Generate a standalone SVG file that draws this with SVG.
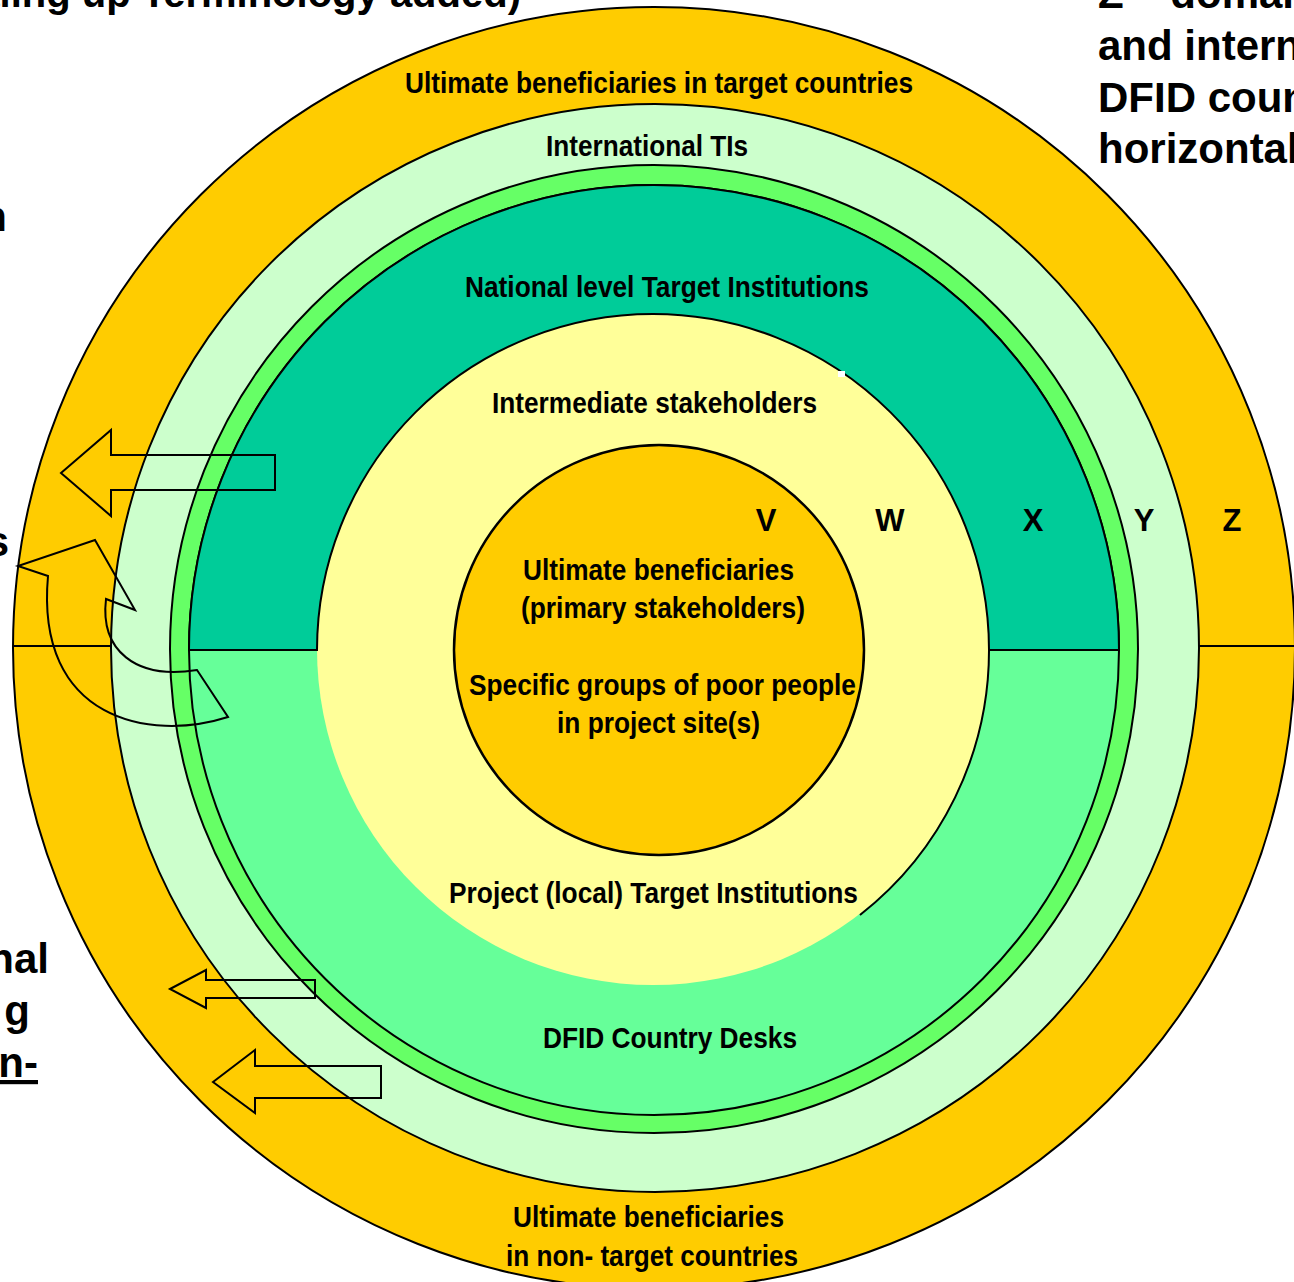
<svg xmlns="http://www.w3.org/2000/svg" width="1294" height="1282" viewBox="0 0 1294 1282">
<style>
.ring{stroke:#000;stroke-width:2}
.lbl{font-family:"Liberation Sans Narrow","Arial Narrow","Liberation Sans",Arial,sans-serif;font-weight:bold;font-size:30px;fill:#000;text-anchor:middle}
.big{font-family:"Liberation Sans",Arial,sans-serif;font-weight:bold;font-size:42px;fill:#000}
.letter{font-family:"Liberation Sans",Arial,sans-serif;font-weight:bold;font-size:31px;fill:#000;text-anchor:middle}
.arrow{fill:none;stroke:#000;stroke-width:2;stroke-linejoin:miter}
</style>
<rect width="1294" height="1282" fill="#fff"/>

<g id="ring-z">
<circle cx="654" cy="648" r="641" fill="#FFCC00" class="ring"/>
<line x1="13" y1="646" x2="112" y2="646" class="ring"/>
<line x1="1198" y1="646" x2="1294" y2="646" class="ring"/>
</g>
<g id="ring-y">
<circle cx="655" cy="648" r="544" fill="#CCFFCC" class="ring"/>
</g>
<g id="ring-band">
<circle cx="654" cy="649" r="484" fill="#66FF66" class="ring"/>
</g>
<g id="ring-x">
<circle cx="654" cy="650" r="465" fill="#66FF99" class="ring"/>
<circle cx="653" cy="649" r="336" fill="#FFFF99" stroke="none"/>
<path d="M189,650 A465,465 0 0 1 1119,650 L989,650 A336,336 0 0 0 317,650 Z" fill="#00CC99" class="ring"/>
<path d="M989,650 A336,336 0 0 1 860,915" fill="none" class="ring"/>
</g>
<g id="ring-w">
<rect x="838" y="371" width="7" height="6" fill="#fff"/>
</g>
<g id="ring-v">
<circle cx="659" cy="650" r="205" fill="#FFCC00" stroke="#000" stroke-width="2.5"/>
</g>

<g id="labels">
<text class="lbl" x="659" y="93" textLength="508" lengthAdjust="spacingAndGlyphs">Ultimate beneficiaries in target countries</text>
<text class="lbl" x="647" y="156" textLength="202" lengthAdjust="spacingAndGlyphs">International TIs</text>
<text class="lbl" x="667" y="297" textLength="404" lengthAdjust="spacingAndGlyphs">National level Target Institutions</text>
<text class="lbl" x="654.5" y="413" textLength="325" lengthAdjust="spacingAndGlyphs">Intermediate stakeholders</text>
<text class="lbl" x="658.5" y="580" textLength="271" lengthAdjust="spacingAndGlyphs">Ultimate beneficiaries</text>
<text class="lbl" x="663" y="618" textLength="284" lengthAdjust="spacingAndGlyphs">(primary stakeholders)</text>
<text class="lbl" x="662.5" y="695" textLength="387" lengthAdjust="spacingAndGlyphs">Specific groups of poor people</text>
<text class="lbl" x="658.5" y="733" textLength="203" lengthAdjust="spacingAndGlyphs">in project site(s)</text>
<text class="lbl" x="653.5" y="903" textLength="409" lengthAdjust="spacingAndGlyphs">Project (local) Target Institutions</text>
<text class="lbl" x="670" y="1048" textLength="254" lengthAdjust="spacingAndGlyphs">DFID Country Desks</text>
<text class="lbl" x="648.5" y="1227" textLength="271" lengthAdjust="spacingAndGlyphs">Ultimate beneficiaries</text>
<text class="lbl" x="652" y="1266" textLength="292" lengthAdjust="spacingAndGlyphs">in non- target countries</text>
<text class="letter" x="766" y="531">V</text>
<text class="letter" x="890" y="531">W</text>
<text class="letter" x="1033" y="531">X</text>
<text class="letter" x="1144" y="531">Y</text>
<text class="letter" x="1232" y="531">Z</text>
</g>

<g id="side-text">
<text class="big" x="521" y="7" text-anchor="end" style="font-size:40px">(Scaling up Terminology added)</text>
<text class="big" x="1098" y="8">Z – domain</text>
<text class="big" x="1098" y="60">and intern</text>
<text class="big" x="1098" y="112">DFID coun</text>
<text class="big" x="1098" y="163">horizontal</text>
<text class="big" x="7" y="231" text-anchor="end">n</text>
<text class="big" x="9" y="556" text-anchor="end">s</text>
<text class="big" x="49" y="973" text-anchor="end">nal</text>
<text class="big" x="30" y="1025" text-anchor="end">g</text>
<text class="big" x="38" y="1077" text-anchor="end" text-decoration="underline">n-</text>
</g>

<g id="connectors">
<path class="arrow" d="M61,473 L111,430 L111,455 L275,455 L275,490 L111,490 L111,516 Z"/>
<path class="arrow" d="M95,540 L135,610 L106,599 C100,650 135,680 197,670 L228,717 C150,742 35,720 48,576 L18,566 Z"/>
<path class="arrow" d="M170,989 L206,970 L206,980 L315,980 L315,998 L206,998 L206,1008 Z"/>
<path class="arrow" d="M213,1082 L255,1050 L255,1066 L381,1066 L381,1098 L255,1098 L255,1113 Z"/>
</g>
</svg>
